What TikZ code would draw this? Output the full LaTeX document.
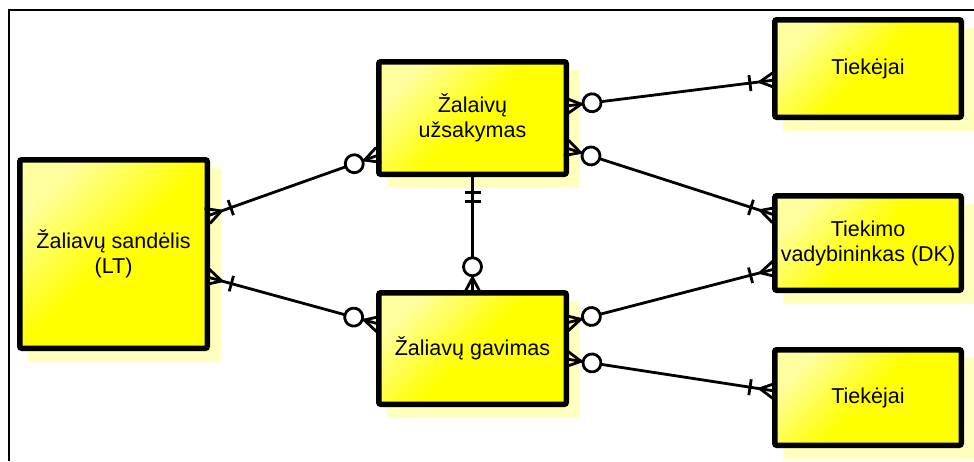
\documentclass[tikz,border=0pt]{standalone}
\usepackage{fontspec}
\setmainfont{Liberation Sans}
\usetikzlibrary{calc,decorations.markings,backgrounds}
\definecolor{paleyel}{RGB}{255,255,160}
\definecolor{shadowyel}{RGB}{255,255,190}

\tikzset{
  entity/.style={draw=black, line width=5.5pt, rounded corners=2pt,
    top color=paleyel, bottom color=yellow, middle color=yellow, shading angle=45,
    minimum width=187.5pt, align=center, inner sep=0pt, outer sep=0pt,
    font=\fontsize{21.5}{25}\selectfont},
  mk/.style={line width=2.8pt, solid},
  rel/.style={line width=2.8pt, postaction={decorate}},
  % crow's foot at the start / end of a connector
  crowS/.style={decoration={markings, mark=at position 15pt with
      {\draw[mk] (-15pt,8pt)--(0pt,0pt)--(-15pt,-8pt);}}},
  crowE/.style={decoration={markings, mark=at position -15pt with
      {\draw[mk] (15pt,8pt)--(0pt,0pt)--(15pt,-8pt);}}},
  % single bar and open circle at a given distance
  erbar/.style={decoration={markings, mark=at position #1 with
      {\draw[mk] (0pt,-8pt)--(0pt,8pt);}}},
  ercirc/.style={decoration={markings, mark=at position #1 with
      {\draw[mk, fill=white] (0pt,0pt) circle (9pt);}}},
}

\begin{document}
\begin{tikzpicture}[x=1pt, y=-1pt]
\useasboundingbox (0,0) rectangle (974,461);

% frame
\draw[line width=2.2pt] (974,10) -- (9,10) -- (9,461);

% entities
\node[entity, minimum height=188.5pt] (sand) at (113.5,254) {Žaliavų sandėlis\\(LT)};
\node[entity, minimum height=112.5pt] (uzs) at (472.5,118) {Žalaivų\\užsakymas};
\node[entity, minimum height=111.5pt] (gav) at (472.5,348.5) {Žaliavų gavimas};
\node[entity, minimum width=186.5pt, minimum height=97.5pt] (t1) at (868,68.5) {Tiekėjai};
\node[entity, minimum width=186.5pt, minimum height=94.5pt] (vad) at (868,243) {Tiekimo\\vadybininkas (DK)};
\node[entity, minimum width=186.5pt, minimum height=95.5pt] (t2) at (868,397.5) {Tiekėjai};

% shadows
\begin{scope}[on background layer]
  \foreach \n in {sand,uzs,gav,t1,vad,t2}
    \fill[shadowyel] ($(\n.north west)+(8.5,8.5)$) rectangle ($(\n.south east)+(13.5,13.5)$);
\end{scope}

% relationships
\draw[rel, crowS, erbar=25pt, crowE, ercirc=-26pt]
  ($(sand.east)+(0,-38)$) -- ($(uzs.west)+(0,37)$);
\draw[rel, crowS, erbar=25pt, crowE, ercirc=-26pt]
  ($(sand.east)+(0,23)$) -- ($(gav.west)+(0,-24.5)$);
\draw[rel, erbar=18pt, erbar=27pt, crowE, ercirc=-26pt]
  (uzs.south) -- (gav.north);
\draw[rel, crowS, ercirc=26pt, crowE, erbar=-25pt]
  ($(uzs.east)+(0,-12)$) -- ($(t1.west)+(0,11.5)$);
\draw[rel, crowS, ercirc=26pt, crowE, erbar=-25pt]
  ($(uzs.east)+(0,30)$) -- ($(vad.west)+(0,-28)$);
\draw[rel, crowS, ercirc=26pt, crowE, erbar=-25pt]
  ($(gav.east)+(0,-25.5)$) -- ($(vad.west)+(0,26)$);
\draw[rel, crowS, ercirc=26pt, crowE, erbar=-25pt]
  ($(gav.east)+(0,10.5)$) -- ($(t2.west)+(0,-6.5)$);
\end{tikzpicture}
\end{document}
